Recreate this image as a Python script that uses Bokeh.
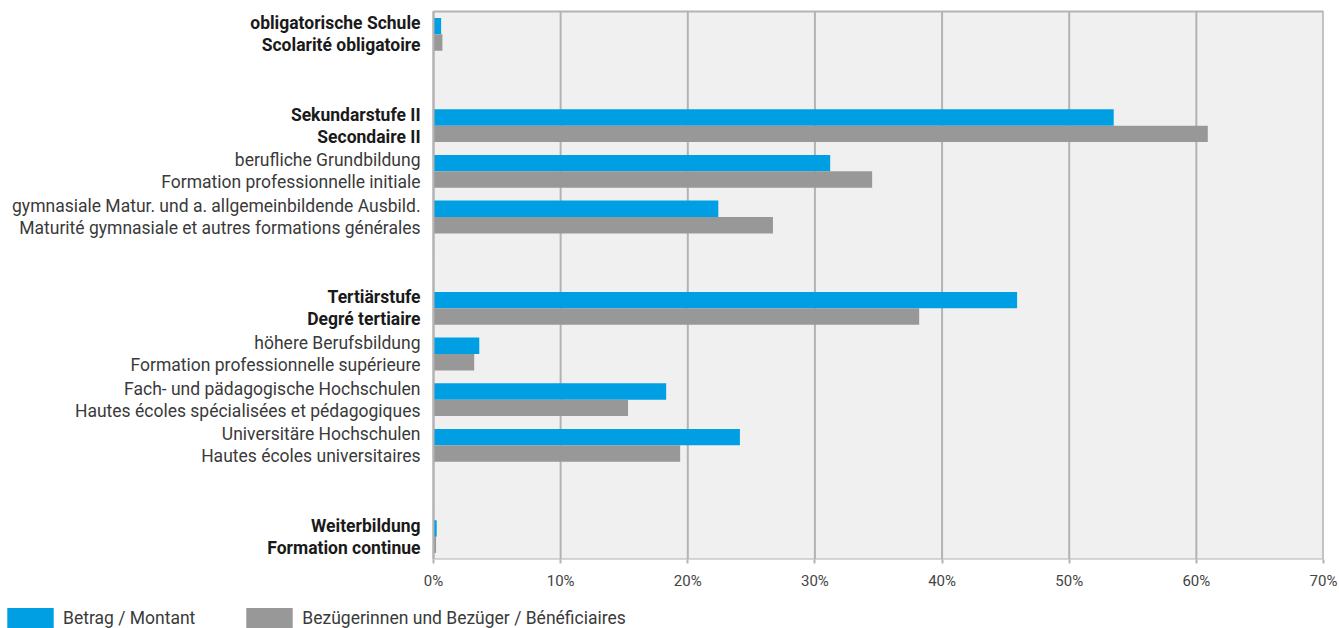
from bokeh.plotting import figure
from bokeh.layouts import column
from bokeh.models import Range1d, FixedTicker, Legend, LegendItem
from bokeh.core.properties import value
from bokeh.embed import file_html
from bokeh.resources import INLINE

# ---- data ----
slots = [0, 2, 3, 4, 6, 7, 8, 9, 11]          # row slot of each category (blank rows between groups)
labels_de = ["obligatorische Schule", "Sekundarstufe II", "berufliche Grundbildung",
             "gymnasiale Matur. und a. allgemeinbildende Ausbild.", "Tertiärstufe",
             "höhere Berufsbildung", "Fach- und pädagogische Hochschulen",
             "Universitäre Hochschulen", "Weiterbildung"]
labels_fr = ["Scolarité obligatoire", "Secondaire II", "Formation professionnelle initiale",
             "Maturité gymnasiale et autres formations générales", "Degré tertiaire",
             "Formation professionnelle supérieure", "Hautes écoles spécialisées et pédagogiques",
             "Hautes écoles universitaires", "Formation continue"]
is_total = [True, True, False, False, True, False, False, False, True]
betrag = [0.6, 53.5, 31.2, 22.4, 45.9, 3.6, 18.3, 24.1, 0.25]
bezueger = [0.7, 60.9, 34.5, 26.7, 38.2, 3.2, 15.3, 19.4, 0.2]
series_names = ["Betrag / Montant", "Bezügerinnen und Bezüger / Bénéficiaires"]
x_ticks = [0, 10, 20, 30, 40, 50, 60, 70]
x_tick_labels = ["0%", "10%", "20%", "30%", "40%", "50%", "60%", "70%"]
n_slots = 12
x_max = 70

BLUE = "#009FE3"
GRAY = "#989898"
LINE = "#b3b3b3"
FONT = "Roboto"
LBL = "17.5px"

# layout (pixels)
W, H_MAIN, H_LEG = 1339, 607, 21
frame_left = 0
plot_left, plot_right, plot_top, plot_bottom = 433, 1323, 11, 559
ppx = (plot_right - plot_left) / x_max
ppy = (plot_bottom - plot_top) / n_slots

p = figure(width=W, height=H_MAIN, output_backend="svg", toolbar_location=None,
           x_range=Range1d(-(plot_left - frame_left) / ppx, x_max),
           y_range=Range1d(n_slots, -plot_top / ppy),
           min_border_left=frame_left, min_border_right=W - plot_right, min_border_top=0,
           min_border_bottom=H_MAIN - plot_bottom)
p.background_fill_color = "white"
p.border_fill_color = "white"
p.outline_line_color = None
p.xgrid.visible = False
p.ygrid.visible = False
p.yaxis.visible = False

# plot area background
p.quad(left=[0], right=[x_max], top=[0], bottom=[n_slots], fill_color="#f0f0f0", line_color=None)
# vertical grid lines
p.segment(x0=x_ticks, x1=x_ticks, y0=[0] * len(x_ticks), y1=[n_slots] * len(x_ticks),
          line_color=LINE, line_width=2)

bar_h = 0.36
centers = [s + 0.5 for s in slots]
p.hbar(y=[c - bar_h / 2 for c in centers], right=betrag, left=0, height=bar_h,
       color=BLUE, line_color=None)
p.hbar(y=[c + bar_h / 2 for c in centers], right=bezueger, left=0, height=bar_h,
       color=GRAY, line_color=None)

# frame outline of the plot area
p.quad(left=[0], right=[x_max], top=[0], bottom=[n_slots], fill_color=None,
       line_color=LINE, line_width=2)

# x axis
p.xaxis.ticker = FixedTicker(ticks=x_ticks)
p.xaxis.major_label_overrides = {t: l for t, l in zip(x_ticks, x_tick_labels)}
p.xaxis.axis_line_color = None
p.xaxis.major_tick_line_color = LINE
p.xaxis.major_tick_line_width = 2
p.xaxis.major_tick_in = 0
p.xaxis.major_tick_out = 4
p.xaxis.minor_tick_line_color = None
p.xaxis.major_label_standoff = 8
p.xaxis.major_label_text_font = FONT
p.xaxis.major_label_text_font_size = "15px"
p.xaxis.major_label_text_color = "#444444"

# category labels (two lines each)
off = 11 / ppy
for bold in (True, False):
    ys, txt = [], []
    for c, de, fr, tot in zip(centers, labels_de, labels_fr, is_total):
        if tot == bold:
            ys += [c - off, c + off]
            txt += [de, fr]
    p.text(x=[0] * len(ys), y=ys, text=txt, x_offset=-13, text_align="right",
           text_baseline="middle", text_font=value(FONT), text_font_size=LBL,
           text_font_style="bold" if bold else "normal",
           text_color="#1a1a1a" if bold else "#3a3a3a")

# legend strip (separate figure below the chart)
q = figure(width=W, height=H_LEG, output_backend="svg", toolbar_location=None,
           x_axis_location=None, y_axis_location=None, min_border=0,
           x_range=Range1d(0, 1), y_range=Range1d(0, 1))
q.outline_line_color = None
q.xgrid.visible = False
q.ygrid.visible = False
l1 = q.hbar(y=[0], left=[0], right=[0], height=0, color=BLUE, line_color=None)
l2 = q.hbar(y=[0], left=[0], right=[0], height=0, color=GRAY, line_color=None)
# Bokeh insets area swatches by 10% on each side; enlarge to get ~46x21 swatches
gw, gh = 58, 26
lg = Legend(items=[LegendItem(label=series_names[0], renderers=[l1], index=0),
                   LegendItem(label=series_names[1], renderers=[l2], index=0)],
            location=(1, -3), orientation="horizontal",
            glyph_width=gw, glyph_height=gh, label_height=gh,
            label_standoff=4, spacing=45, padding=0, margin=0,
            border_line_color=None, background_fill_alpha=0, label_text_font=FONT,
            label_text_font_size=LBL, label_text_color="#3a3a3a")
q.add_layout(lg, "center")

layout = column(p, q, spacing=0)
open("out.html", "w").write(file_html(layout, INLINE))
